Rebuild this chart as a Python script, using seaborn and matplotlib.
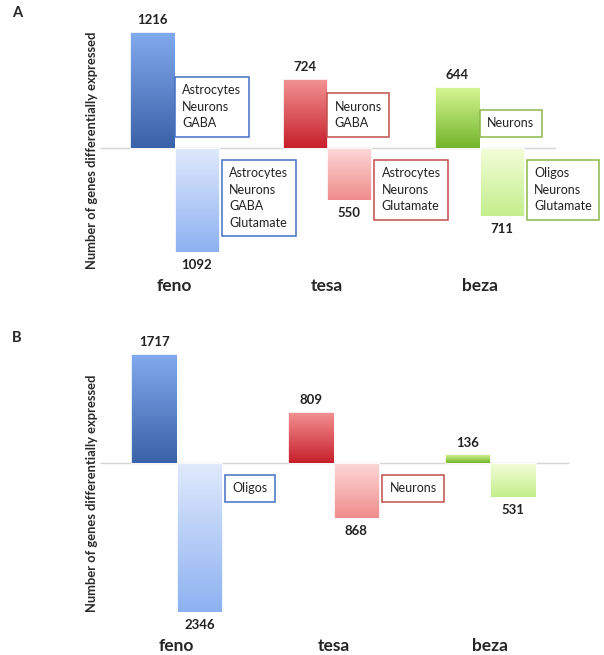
import numpy as np
import pandas as pd
import matplotlib.pyplot as plt
import seaborn as sns
from matplotlib.colors import to_rgb

# ── Data ───────────────────────────────────────────
drugs  = ["feno", "tesa", "beza"]
up_a   = [1216, 724, 644]
down_a = [1092, 550, 711]
up_b   = [1717, 809, 136]
down_b = [2346, 868, 531]

cells_up_a   = ["Astrocytes\nNeurons\nGABA", "Neurons\nGABA", "Neurons"]
cells_down_a = ["Astrocytes\nNeurons\nGABA\nGlutamate",
                "Astrocytes\nNeurons\nGlutamate",
                "Oligos\nNeurons\nGlutamate"]
cells_up_b   = ["", "", ""]
cells_down_b = ["Oligos", "Neurons", ""]

# ── Colours (top -> bottom of each bar) ────────────
top_up = ["#82aaef", "#f39494", "#d8f796"]
bot_up = ["#3a62a8", "#c71f2b", "#72b52a"]
top_dn = ["#e0eafc", "#fdd8d8", "#f3fdd8"]
bot_dn = ["#8db1f1", "#f08c8c", "#c4ee8c"]
box_ec = ["#4272c4", "#c0504d", "#8cb84a"]

sns.set_style("white")
plt.rcParams["font.family"] = ["Lato", "DejaVu Sans"]

fig = plt.figure(figsize=(6.04, 6.55), dpi=100)
W, H = 604, 655


def px_axes(left, top, right, bottom):
    return fig.add_axes([left / W, 1 - bottom / H,
                         (right - left) / W, (bottom - top) / H])


def gradient_fill(ax, bar, c_top, c_bot):
    x0 = bar.get_x()
    x1 = x0 + bar.get_width()
    y0, y1 = sorted([bar.get_y(), bar.get_y() + bar.get_height()])
    t = np.linspace(0, 1, 128)[:, None]
    img = (1 - t) * np.array(to_rgb(c_top)) + t * np.array(to_rgb(c_bot))
    im = ax.imshow(img[:, None, :], extent=[x0, x1, y0, y1], origin="upper",
                   aspect="auto", interpolation="bicubic", zorder=2)
    im.set_clip_path(bar)
    bar.set_facecolor("none")
    bar.set_edgecolor("#ffffff")
    bar.set_linewidth(0.6)
    bar.set_zorder(3)


def draw_panel(ax, up, down, cells_up, cells_down, xlim, ylim):
    df = pd.DataFrame({"drug": drugs * 2,
                       "dir": ["up"] * 3 + ["down"] * 3,
                       "value": up + [-v for v in down]})
    sns.barplot(data=df, x="drug", y="value", hue="dir", width=0.58,
                dodge=True, legend=False, errorbar=None, saturation=1,
                palette={"up": "#888888", "down": "#cccccc"}, ax=ax)

    ax.hlines(0, -0.49, 2.5, color="#d4d4d4", lw=1, zorder=1)

    box_kw = dict(textcoords="offset points", ha="left", fontsize=9,
                  linespacing=1.45, color="#222222",
                  annotation_clip=False, zorder=5)

    up_bars, down_bars = ax.containers[0], ax.containers[1]
    for i, bar in enumerate(up_bars):
        gradient_fill(ax, bar, top_up[i], bot_up[i])
        cx = bar.get_x() + bar.get_width() / 2
        ax.annotate(f"{up[i]}", xy=(cx, bar.get_height()),
                    xytext=(0, 4), textcoords="offset points",
                    ha="center", va="bottom", fontsize=9.5,
                    fontweight="bold", color="#222222")
        if cells_up[i]:
            ax.annotate(cells_up[i], xy=(bar.get_x() + bar.get_width(), 0),
                        xytext=(5.5, 13.3), va="bottom",
                        bbox=dict(boxstyle="square,pad=0.6", fc="white",
                                  ec=box_ec[i], lw=1.1),
                        **box_kw)

    for i, bar in enumerate(down_bars):
        gradient_fill(ax, bar, top_dn[i], bot_dn[i])
        cx = bar.get_x() + bar.get_width() / 2
        ax.annotate(f"{down[i]}", xy=(cx, -down[i]),
                    xytext=(0, -5), textcoords="offset points",
                    ha="center", va="top", fontsize=9.5,
                    fontweight="bold", color="#222222")
        if cells_down[i]:
            ax.annotate(cells_down[i], xy=(bar.get_x() + bar.get_width(), 0),
                        xytext=(7.5, -14), va="top",
                        bbox=dict(boxstyle="square,pad=0.6", fc="white",
                                  ec=box_ec[i], lw=1.1),
                        **box_kw)

    ax.set_xlim(*xlim)
    ax.set_ylim(*ylim)
    ax.set_yticks([])
    ax.set_xlabel("")
    ax.set_ylabel("Number of genes differentially expressed",
                  fontsize=9.3, fontweight="bold", color="#2a2a2a")
    ax.yaxis.set_label_coords(-0.004, 0.47)
    ax.tick_params(axis="x", length=0, pad=3, labelsize=12.5)
    for lab in ax.get_xticklabels():
        lab.set_fontweight("bold")
    sns.despine(ax=ax, left=True, bottom=True)
    ax.set_facecolor("none")


ax_a = px_axes(100, 10, 600, 274)
draw_panel(ax_a, up_a, down_a, cells_up_a, cells_down_a,
           (-0.49, 2.79), (-1321, 1446))

ax_b = px_axes(100, 335, 600, 634)
draw_panel(ax_b, up_b, down_b, cells_up_b, cells_down_b,
           (-0.49, 2.70), (-2693, 2016))

fig.text(12 / W, 1 - 13 / H, "A", fontsize=10.5, fontweight="bold",
         ha="left", va="center")
fig.text(12 / W, 1 - 338 / H, "B", fontsize=10.5, fontweight="bold",
         ha="left", va="center")

fig.savefig("out.png", dpi=100)
